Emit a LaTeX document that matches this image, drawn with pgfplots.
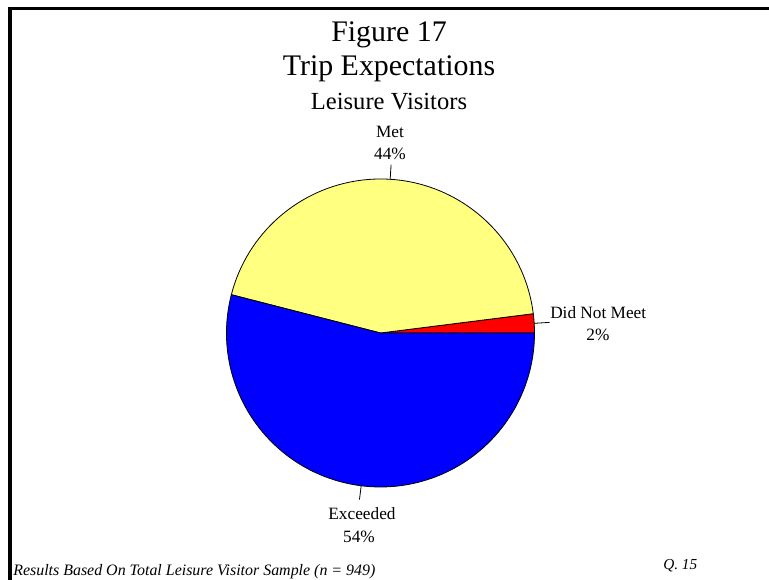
\documentclass[border=0pt]{standalone}
\usepackage{fontspec}
\setmainfont{Liberation Serif}
\usepackage{pgfplots}
\usepackage{pgfplotstable}
\pgfplotsset{compat=1.18}

\definecolor{pieYellow}{HTML}{FFFF80}
\definecolor{pieRed}{HTML}{FF0000}
\definecolor{pieBlue}{HTML}{0000FF}

% trip expectations, leisure visitors (percent)
\pgfplotstableread{
label pct
DidNotMeet 2
Met 44
Exceeded 54
}\piedata

\pgfplotstablegetelem{0}{pct}\of\piedata \let\pA\pgfplotsretval
\pgfplotstablegetelem{1}{pct}\of\piedata \let\pB\pgfplotsretval
\pgfplotstablegetelem{2}{pct}\of\piedata \let\pC\pgfplotsretval
\pgfmathsetmacro\aA{3.6*\pA}
\pgfmathsetmacro\aB{\aA+3.6*\pB}
\pgfmathsetmacro\aC{\aB+3.6*\pC}
\pgfmathsetmacro\mA{\aA/2}
\pgfmathsetmacro\mB{(\aA+\aB)/2}
\pgfmathsetmacro\mC{(\aB+\aC)/2}
\def\R{115.5bp}

\begin{document}
\begin{tikzpicture}
\begin{axis}[
  at={(0,0)}, anchor=south west,
  x=0.75bp, y=0.75bp,
  xmin=0, xmax=769, ymin=0, ymax=580,
  hide axis, clip=true,
]
% frame (top and left sides only visible)
\draw[black, line width=2.8bp] (axis cs:10,0) -- (axis cs:10,571.5) -- (axis cs:769,571.5);

% slices
\filldraw[fill=pieRed, draw=black, line width=0.6bp]
  (axis cs:380.5,247) -- ++(0:\R) arc[start angle=0, end angle=\aA, radius=\R] -- cycle;
\filldraw[fill=pieYellow, draw=black, line width=0.6bp]
  (axis cs:380.5,247) -- ++(\aA:\R) arc[start angle=\aA, end angle=\aB, radius=\R] -- cycle;
\filldraw[fill=pieBlue, draw=black, line width=0.6bp]
  (axis cs:380.5,247) -- ++(\aB:\R) arc[start angle=\aB, end angle=\aC, radius=\R] -- cycle;

% leader lines
\draw[black, line width=0.6bp] (axis cs:380.5,247) ++(\mA:\R) -- ++(\mA:11.5bp);
\draw[black, line width=0.6bp] (axis cs:380.5,247) ++(\mB:\R) -- ++(\mB:11bp);
\draw[black, line width=0.6bp] (axis cs:380.5,247) ++(\mC:\R) -- ++(\mC:10.5bp);

% titles
\node[anchor=base, inner sep=0pt, font=\fontsize{22.5}{26}\selectfont] at (axis cs:389,538) {Figure 17};
\node[anchor=base, inner sep=0pt, font=\fontsize{22.5}{26}\selectfont] at (axis cs:389,504) {Trip Expectations};
\node[anchor=base, inner sep=0pt, font=\fontsize{18.5}{22}\selectfont] at (axis cs:389,470) {Leisure Visitors};

% slice labels
\node[anchor=base, inner sep=0pt, font=\fontsize{13}{16}\selectfont] at (axis cs:390,442) {Met};
\node[anchor=base, inner sep=0pt, font=\fontsize{13}{16}\selectfont] at (axis cs:390,420) {44\%};
\node[anchor=base west, inner sep=0pt, font=\fontsize{13}{16}\selectfont] at (axis cs:550,261) {Did Not Meet};
\node[anchor=base, inner sep=0pt, font=\fontsize{13}{16}\selectfont] at (axis cs:598,239.7) {2\%};
\node[anchor=base, inner sep=0pt, font=\fontsize{13}{16}\selectfont] at (axis cs:362,60.7) {Exceeded};
\node[anchor=base, inner sep=0pt, font=\fontsize{13}{16}\selectfont] at (axis cs:359,37.3) {54\%};

% footer
\node[anchor=base west, inner sep=0pt, font=\fontsize{12}{14}\selectfont\itshape] at (axis cs:13,5) {Results Based On Total Leisure Visitor Sample (n = 949)};
\node[anchor=base west, inner sep=0pt, font=\fontsize{11.5}{14}\selectfont\itshape] at (axis cs:663,10.7) {Q. 15};
\end{axis}
\pgfresetboundingbox
\path[use as bounding box] (0,0) rectangle (576.75bp,435bp);
\end{tikzpicture}
\end{document}
